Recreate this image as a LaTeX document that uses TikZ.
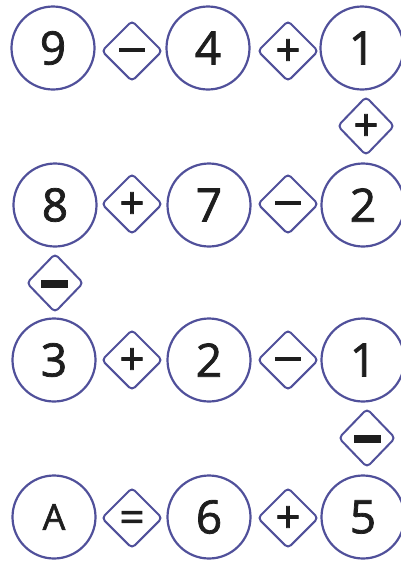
\documentclass[tikz,border=0pt]{standalone}
\usepackage{fontspec}
\setmainfont{Open Sans}
\newfontfamily\numfont{Open Sans}[FakeBold=1.6]
\usetikzlibrary{shapes.geometric}
\definecolor{rim}{HTML}{50509A}
\definecolor{ink}{HTML}{1E1E1E}
\newcommand{\opc}[1]{\raisebox{-0.33em}[0pt][0pt]{#1}}
\newcommand{\thickminus}{\raisebox{-0.12em}[0pt][0pt]{\rule{27pt}{8pt}}}
\tikzset{
  num/.style={circle, draw=rim, line width=2.2pt, minimum size=83pt, inner sep=0pt,
    text=ink, font=\numfont\fontsize{46}{50}\selectfont},
  op/.style={diamond, draw=rim, line width=2pt, minimum width=61pt, minimum height=61pt,
    inner sep=0pt, rounded corners=4pt, text=ink, font=\numfont\fontsize{44}{50}\selectfont},
  vop/.style={op, minimum width=57pt, minimum height=59pt},
}
\begin{document}
\begin{tikzpicture}[x=1pt,y=-1pt]
\useasboundingbox (0,0) rectangle (401,563);
% row 1
\node[num] (n9) at (53,48) {9};
\node[op]  (o1) at (132,51) {\opc{\scalebox{1.2}[1]{−}}};
\node[num] (n4) at (208,48) {4};
\node[op]  (o2) at (288,51) {\opc{+}};
\node[num] (n1) at (362,48) {1};
\node[vop] (v1) at (366,126) {\opc{+}};
% row 2
\node[num] (n8) at (55,205) {8};
\node[op]  (o3) at (132,204) {\opc{+}};
\node[num] (n7) at (209,205) {7};
\node[op]  (o4) at (288,204) {\opc{\scalebox{1.2}[1]{−}}};
\node[num] (n2) at (363,205) {2};
\node[vop] (v2) at (55,283) {\thickminus};
% row 3
\node[num] (n3) at (54,360) {3};
\node[op]  (o5) at (132,360) {\opc{+}};
\node[num] (n2b) at (209,360) {2};
\node[op]  (o6) at (288,360) {\opc{\scalebox{1.2}[1]{−}}};
\node[num] (n1b) at (363,360) {1};
\node[vop] (v3) at (367,438) {\thickminus};
% row 4
\node[num] (nA) at (54,517) {\fontsize{36}{40}\selectfont A};
\node[op]  (o7) at (132,518) {\opc{=}};
\node[num] (n6) at (209,517) {6};
\node[op]  (o8) at (288,518) {\opc{+}};
\node[num] (n5) at (363,517) {5};
\end{tikzpicture}
\end{document}
